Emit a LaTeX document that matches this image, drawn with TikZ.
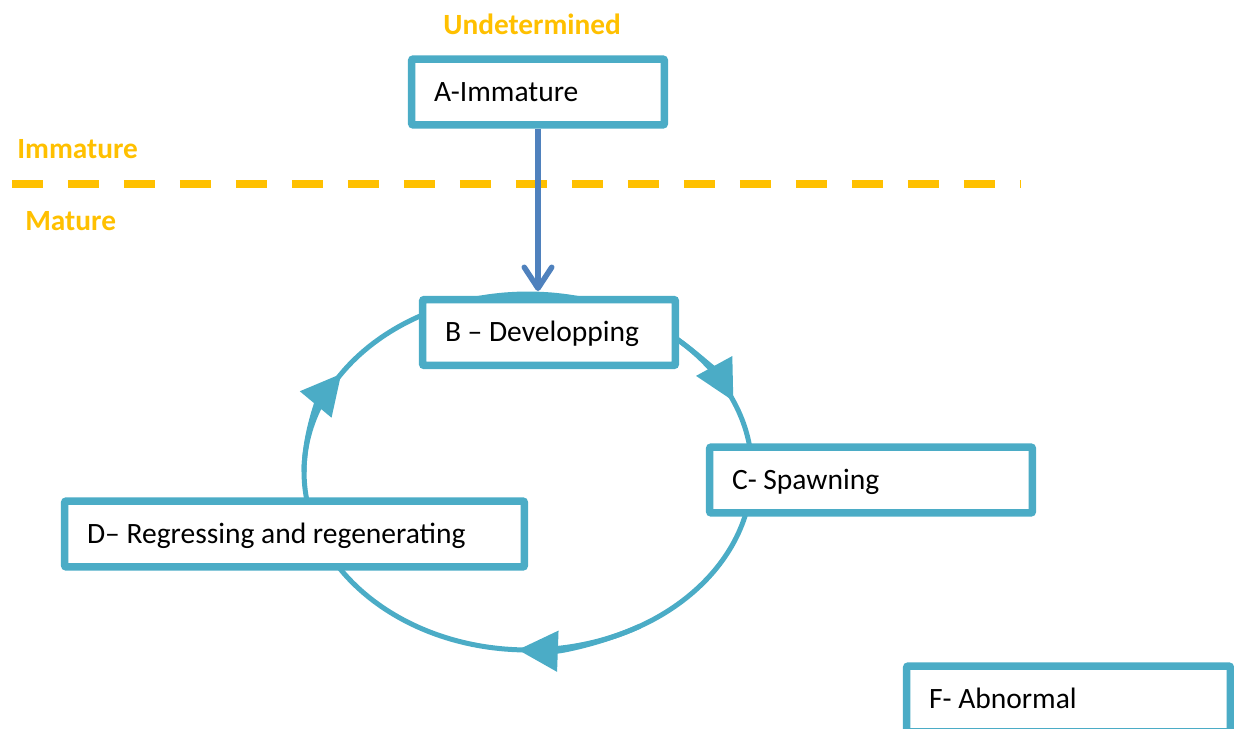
\documentclass[tikz,border=0pt]{standalone}
\usepackage{fontspec}
\setmainfont{Carlito}
\usetikzlibrary{arrows.meta}
\definecolor{stageblue}{HTML}{4BACC6}
\definecolor{entryblue}{HTML}{4F81BD}
\definecolor{zoneyellow}{HTML}{FFC000}
\newcommand\stagetext[1]{\fontsize{16.8}{20}\selectfont\spaceskip=0.226em\relax #1}
\begin{document}
\begin{tikzpicture}[x=0.02cm, y=-0.02cm,
    stage/.style={draw=stageblue, line width=0.15cm, fill=white, rounded corners=0.04cm,
        inner xsep=0.45cm, minimum height=1.32cm,
        text height=10.8pt, text depth=0pt, font=\fontsize{16.8}{20}\selectfont},
    zone/.style={text=zoneyellow, anchor=west, inner sep=0pt, text height=10.8pt, text depth=0pt,
        font=\fontsize{16.7}{20}\selectfont\bfseries},
    flow/.style={draw=stageblue, line width=0.1cm},
    flowtip/.style={flow, -{Triangle[length=0.8cm, width=0.8cm]}}]
    \clip (0,0) rectangle (1234,729);
    \coordinate (ring) at (528,472);
    \coordinate (entry) at (538,291);
    \draw[flow] (ring) ellipse [x radius=4.48cm, y radius=3.56cm];
    \draw[flowtip] (ring) ++(50:4.48cm and 3.56cm) arc [start angle=50, end angle=23.5, x radius=4.48cm, y radius=3.56cm];
    \draw[flowtip] (ring) ++(-60:4.48cm and 3.56cm) arc [start angle=-60, end angle=-92.6, x radius=4.48cm, y radius=3.56cm];
    \draw[flowtip] (ring) ++(180:4.48cm and 3.56cm) arc [start angle=180, end angle=146.5, x radius=4.48cm, y radius=3.56cm];
    \draw[zoneyellow, line width=0.16cm, dash pattern=on 0.62cm off 0.5cm] (12,184) -- (1020,184);
    \node[zone] (undetermined) at (443,25) {Undetermined};
    \node[zone] (immature) at (17,149) {Immature};
    \node[zone] (mature) at (25,221) {Mature};
    \node[stage, text width=4.16cm] (A) at (538,92) {\stagetext{A-Immature}};
    \node[stage, text width=4.16cm] (B) at (549,332.5) {\stagetext{B -- Developping}};
    \node[stage, text width=5.56cm] (C) at (871,480) {\stagetext{C- Spawning}};
    \node[stage, text width=8.3cm] (D) at (294.5,534) {\stagetext{D-- Regressing and regenerating}};
    \node[stage, text width=5.58cm] (F) at (1068.5,699) {\stagetext{F- Abnormal}};
    \draw[entryblue, line width=0.11cm, -{Straight Barb[length=0.42cm, width=0.55cm, round]}] (A.south) -- (entry);
\end{tikzpicture}
\end{document}
